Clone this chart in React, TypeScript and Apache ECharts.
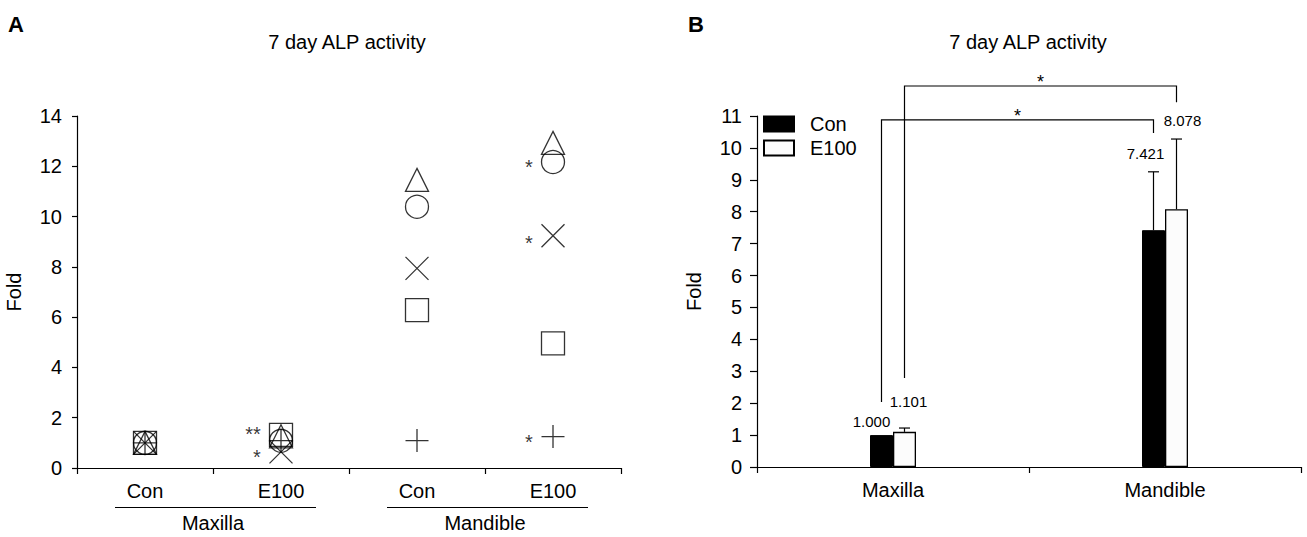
import React, { useEffect, useRef } from "react";
import * as echarts from "echarts";

// ---------- Panel A data (scatter, individual samples) ----------
const categoriesA = ["Con", "E100", "Con", "E100"];
const groupsA = ["Maxilla", "Mandible"];
const squareVals = [1.0, 1.32, 6.28, 4.96];
const circleVals = [1.0, 1.08, 10.39, 12.17];
const triangleVals = [1.0, 1.26, 11.46, 12.93];
const crossVals = [1.0, 0.64, 7.94, 9.24];
const plusVals = [1.0, 1.09, 1.09, 1.25];
const squareStars = ["", "**", "", ""];
const circleStars = ["", "", "", "*"];
const triangleStars = ["", "", "", ""];
const crossStars = ["", "*", "", "*"];
const plusStars = ["", "", "", "*"];

// ---------- Panel B data (bar, mean + SD) ----------
const categoriesB = ["Maxilla", "Mandible"];
const seriesNamesB = ["Con", "E100"];
const conMeans = [1.0, 7.421];
const conErr = [0, 1.83];
const e100Means = [1.101, 8.078];
const e100Err = [0.12, 2.2];
// significance brackets: [fromCategory, fromSeries(0=Con,1=E100), toCategory, toSeries, leftBase, rightBase, top]
const brackets = [
  [0, 0, 1, 0, 2.04, 10.47, 10.88],
  [0, 1, 1, 1, 2.79, 11.43, 11.94],
];
const bracketLabels = ["*", "*"];

// ---------- style ----------
const FONT = '"Liberation Sans", Arial, Helvetica, sans-serif';
const BAR_W = 23;
const conLabelShift = [
  [-10, 14],
  [-8, 18],
];
const e100LabelShift = [
  [4, 27],
  [6, 19],
];

const X_PATH = "path://M0,0L20,20M20,0L0,20";
const PLUS_PATH = "path://M10,0L10,20M0,10L20,10";

function makeScatter(name: string, symbol: string, vals: number[], stars: string[], offY: number[]) {
  return {
    type: "scatter",
    name,
    xAxisIndex: 0,
    yAxisIndex: 0,
    symbol,
    symbolSize: 23,
    emphasis: { disabled: true },
    itemStyle: { color: "transparent", borderColor: "#000", borderWidth: 1.3 },
    data: vals.map((v, i) =>
      stars[i]
        ? {
            value: v,
            label: {
              show: true,
              formatter: stars[i],
              position: "left",
              distance: 8,
              offset: [0, offY[i]],
              fontSize: 20,
              color: "#000",
              textBorderWidth: 0,
              textBorderColor: "transparent",
              fontFamily: FONT,
            },
          }
        : v
    ),
  };
}

function makeErr(side: number, shift: number[][]) {
  return (params: any, api: any) => {
    const i = params.dataIndex;
    const cat = api.value(0);
    const mean = api.value(1);
    const err = api.value(2);
    const base = api.coord([cat, mean]);
    const top = api.coord([cat, mean + err]);
    const x = base[0] + (side * BAR_W) / 2;
    const children: any[] = [];
    if (err > 0) {
      children.push({
        type: "line",
        shape: { x1: x, y1: base[1], x2: x, y2: top[1] },
        style: { stroke: "#000", lineWidth: 1.2 },
      });
      children.push({
        type: "line",
        shape: { x1: x - 5.5, y1: top[1], x2: x + 5.5, y2: top[1] },
        style: { stroke: "#000", lineWidth: 1.2 },
      });
    }
    children.push({
      type: "text",
      x: x + shift[i][0],
      y: top[1] - shift[i][1],
      style: {
        text: mean.toFixed(3),
        fill: "#000",
        font: `15px ${FONT}`,
        align: "center",
        verticalAlign: "middle",
      },
    });
    return { type: "group", children };
  };
}

function renderBracket(params: any, api: any) {
  const i = params.dataIndex;
  const x0 = api.coord([api.value(0), 0])[0] + (api.value(1) === 0 ? -1 : 1) * (BAR_W / 2);
  const x1 = api.coord([api.value(2), 0])[0] + (api.value(3) === 0 ? -1 : 1) * (BAR_W / 2);
  const yl = api.coord([0, api.value(4)])[1];
  const yr = api.coord([0, api.value(5)])[1];
  const yt = api.coord([0, api.value(6)])[1];
  return {
    type: "group",
    children: [
      {
        type: "polyline",
        shape: { points: [[x0, yl], [x0, yt], [x1, yt], [x1, yr]] },
        style: { stroke: "#000", lineWidth: 1.2, fill: "none" },
      },
      {
        type: "text",
        x: (x0 + x1) / 2,
        y: yt - 4,
        style: {
          text: bracketLabels[i],
          fill: "#000",
          font: `18px ${FONT}`,
          align: "center",
          verticalAlign: "middle",
        },
      },
    ],
  };
}

const axisLine = { show: true, lineStyle: { color: "#000", width: 1.2 } };
const axisTickStyle = { color: "#000", width: 1.2 };

export default function App() {
  const ref = useRef<HTMLDivElement>(null);
  useEffect(() => {
    if (!ref.current) return;
    const chart = echarts.init(ref.current, null, { renderer: "svg" });
    const option: any = {
      animation: false,
      textStyle: { fontFamily: FONT, color: "#000" },
      grid: [
        { left: 77, top: 116, width: 544, height: 352 },
        { left: 757, top: 116, width: 544, height: 351 },
      ],
      legend: {
        data: seriesNamesB,
        orient: "vertical",
        left: 763,
        top: 114,
        padding: 0,
        itemWidth: 30,
        itemHeight: 15,
        itemGap: 4,
        icon: "rect",
        selectedMode: false,
        textStyle: { fontSize: 20, color: "#000", fontFamily: FONT, lineHeight: 20, padding: [0, 0, 0, 11] },
      },
      xAxis: [
        {
          gridIndex: 0,
          type: "category",
          data: categoriesA,
          axisLine,
          axisTick: { show: true, length: 6, lineStyle: axisTickStyle },
          axisLabel: { fontSize: 20, color: "#000", margin: 13, fontFamily: FONT },
        },
        {
          gridIndex: 0,
          type: "category",
          data: groupsA,
          position: "bottom",
          offset: 32,
          axisLine: { show: false },
          axisTick: { show: false },
          axisLabel: { fontSize: 20, color: "#000", margin: 13, fontFamily: FONT },
        },
        {
          gridIndex: 1,
          type: "category",
          data: categoriesB,
          axisLine,
          axisTick: { show: true, length: 6, lineStyle: axisTickStyle },
          axisLabel: { fontSize: 20, color: "#000", margin: 13, fontFamily: FONT },
        },
      ],
      yAxis: [
        {
          gridIndex: 0,
          type: "value",
          min: 0,
          max: 14,
          interval: 2,
          name: "Fold",
          nameLocation: "middle",
          nameGap: 53,
          nameTextStyle: { fontSize: 20, color: "#000", fontFamily: FONT },
          axisLine,
          axisTick: { show: true, length: 5, lineStyle: axisTickStyle },
          axisLabel: { fontSize: 20, color: "#000", margin: 15, fontFamily: FONT },
          splitLine: { show: false },
        },
        {
          gridIndex: 1,
          type: "value",
          min: 0,
          max: 11,
          interval: 1,
          name: "Fold",
          nameLocation: "middle",
          nameGap: 53,
          nameTextStyle: { fontSize: 20, color: "#000", fontFamily: FONT },
          axisLine,
          axisTick: { show: true, length: 7, lineStyle: axisTickStyle },
          axisLabel: { fontSize: 20, color: "#000", margin: 15, fontFamily: FONT },
          splitLine: { show: false },
        },
      ],
      series: [
        makeScatter("square", "rect", squareVals, squareStars, [0, -1, 0, 0]),
        makeScatter("circle", "circle", circleVals, circleStars, [0, 0, 0, 5]),
        makeScatter("triangle", "triangle", triangleVals, triangleStars, [0, 0, 0, 0]),
        makeScatter("cross", X_PATH, crossVals, crossStars, [0, 5, 0, 7]),
        makeScatter("plus", PLUS_PATH, plusVals, plusStars, [0, 0, 0, 5]),
        {
          type: "bar",
          name: seriesNamesB[0],
          xAxisIndex: 2,
          yAxisIndex: 1,
          data: conMeans,
          barWidth: BAR_W,
          barGap: "0%",
          emphasis: { disabled: true },
          itemStyle: { color: "#000", borderColor: "#000", borderWidth: 1 },
        },
        {
          type: "bar",
          name: seriesNamesB[1],
          xAxisIndex: 2,
          yAxisIndex: 1,
          data: e100Means,
          barWidth: BAR_W,
          barGap: "0%",
          emphasis: { disabled: true },
          itemStyle: { color: "#fcfcfc", borderColor: "#000", borderWidth: 1.3 },
        },
        {
          type: "custom",
          name: "Con err",
          xAxisIndex: 2,
          yAxisIndex: 1,
          clip: false,
          silent: true,
          z: 5,
          encode: { x: 0, y: 1 },
          data: categoriesB.map((_, i) => [i, conMeans[i], conErr[i]]),
          renderItem: makeErr(-1, conLabelShift),
        },
        {
          type: "custom",
          name: "E100 err",
          xAxisIndex: 2,
          yAxisIndex: 1,
          clip: false,
          silent: true,
          z: 5,
          encode: { x: 0, y: 1 },
          data: categoriesB.map((_, i) => [i, e100Means[i], e100Err[i]]),
          renderItem: makeErr(1, e100LabelShift),
        },
        {
          type: "custom",
          name: "brackets",
          xAxisIndex: 2,
          yAxisIndex: 1,
          clip: false,
          silent: true,
          z: 6,
          encode: { x: 0, y: 4 },
          data: brackets,
          renderItem: renderBracket,
        },
      ],
      graphic: [
        { type: "text", x: 16, y: 24, style: { text: "A", font: `bold 22px ${FONT}`, fill: "#000", align: "center", verticalAlign: "middle" } },
        { type: "text", x: 696, y: 24, style: { text: "B", font: `bold 22px ${FONT}`, fill: "#000", align: "center", verticalAlign: "middle" } },
        { type: "text", x: 347, y: 42, style: { text: "7 day ALP activity", font: `20px ${FONT}`, fill: "#000", align: "center", verticalAlign: "middle" } },
        { type: "text", x: 1028, y: 42, style: { text: "7 day ALP activity", font: `20px ${FONT}`, fill: "#000", align: "center", verticalAlign: "middle" } },
        { type: "line", shape: { x1: 115, y1: 507.5, x2: 316, y2: 507.5 }, style: { stroke: "#000", lineWidth: 1.2 } },
        { type: "line", shape: { x1: 387, y1: 507.5, x2: 588, y2: 507.5 }, style: { stroke: "#000", lineWidth: 1.2 } },
      ],
    };
    chart.setOption(option);
    return () => chart.dispose();
  }, []);
  return (
    <div
      ref={ref}
      style={{ position: "absolute", left: 0, top: 0, width: 1307, height: 537, background: "#fff" }}
    />
  );
}
